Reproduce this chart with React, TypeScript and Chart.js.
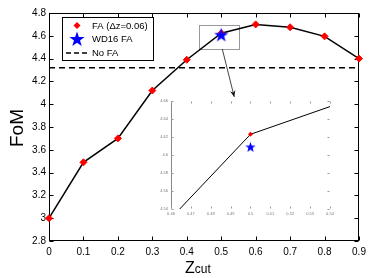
import React, { useEffect, useRef } from "react";
import { Chart, registerables } from "chart.js";

Chart.register(...registerables);

// ---- data ----
const zcut = [0, 0.1, 0.2, 0.3, 0.4, 0.5, 0.6, 0.7, 0.8, 0.9];
const fomFA = [3.0, 3.49, 3.7, 4.12, 4.39, 4.623, 4.7, 4.675, 4.595, 4.4];
const wd16X = [0.5];
const wd16Y = [4.609];
const noFAValue = 4.32;
const legendLabels = ["FA (\u0394z=0.06)", "WD16 FA", "No FA"];
const xTicksMain = [0, 0.1, 0.2, 0.3, 0.4, 0.5, 0.6, 0.7, 0.8, 0.9];
const yTicksMain = [2.8, 3.0, 3.2, 3.4, 3.6, 3.8, 4.0, 4.2, 4.4, 4.6, 4.8];
const xTicksInset = [0.46, 0.47, 0.48, 0.49, 0.5, 0.51, 0.52, 0.53, 0.54];
const yTicksInset = [4.54, 4.56, 4.58, 4.6, 4.62, 4.64, 4.66];
const zoomBoxX = [0.436, 0.552];
const zoomBoxY = [4.485, 4.695];

const FONT = "'Liberation Sans', Arial, Helvetica, sans-serif";

function fmt(v: number) {
  return String(Number(Number(v).toFixed(2)));
}

function makeStar(size: number, color: string) {
  const c = document.createElement("canvas");
  c.width = size;
  c.height = size;
  const g = c.getContext("2d")!;
  const cx = size / 2;
  const cy = size / 2 + size * 0.04;
  const R = size / 2;
  const r = R * 0.4;
  g.beginPath();
  for (let i = 0; i < 10; i++) {
    const ang = -Math.PI / 2 + (i * Math.PI) / 5;
    const rad = i % 2 === 0 ? R : r;
    g.lineTo(cx + rad * Math.cos(ang), cy + rad * Math.sin(ang));
  }
  g.closePath();
  g.fillStyle = color;
  g.fill();
  return c;
}

function drawStarPath(ctx: CanvasRenderingContext2D, cx: number, cy: number, R: number) {
  const r = R * 0.4;
  ctx.beginPath();
  for (let i = 0; i < 10; i++) {
    const ang = -Math.PI / 2 + (i * Math.PI) / 5;
    const rad = i % 2 === 0 ? R : r;
    ctx.lineTo(cx + rad * Math.cos(ang), cy + rad * Math.sin(ang));
  }
  ctx.closePath();
}

const mainDecor = {
  id: "mainDecor",
  beforeDatasetsDraw(chart: any) {
    const { ctx, chartArea: a, scales } = chart;
    const x = scales.x;
    const y = scales.y;
    ctx.save();
    ctx.strokeStyle = "#000";
    ctx.lineWidth = 1;
    const L = Math.round(a.left) + 0.5;
    const R = Math.round(a.right) - 0.5;
    const T = Math.round(a.top) + 0.5;
    const B = Math.round(a.bottom) - 0.5;
    ctx.strokeRect(L, T, R - L, B - T);
    const tl = 4;
    ctx.beginPath();
    xTicksMain.forEach((v) => {
      const px = Math.round(x.getPixelForValue(v)) + 0.5;
      ctx.moveTo(px, B);
      ctx.lineTo(px, B - tl);
      ctx.moveTo(px, T);
      ctx.lineTo(px, T + tl);
    });
    yTicksMain.forEach((v) => {
      const py = Math.round(y.getPixelForValue(v)) + 0.5;
      ctx.moveTo(L, py);
      ctx.lineTo(L + tl, py);
      ctx.moveTo(R, py);
      ctx.lineTo(R - tl, py);
    });
    ctx.stroke();

    // zoom box
    ctx.strokeStyle = "#999";
    ctx.lineWidth = 1;
    const bx0 = Math.round(x.getPixelForValue(zoomBoxX[0])) + 0.5;
    const bx1 = Math.round(x.getPixelForValue(zoomBoxX[1])) + 0.5;
    const by0 = Math.round(y.getPixelForValue(zoomBoxY[1])) + 0.5;
    const by1 = Math.round(y.getPixelForValue(zoomBoxY[0])) + 0.5;
    ctx.strokeRect(bx0, by0, bx1 - bx0, by1 - by0);
    ctx.restore();
  },
  afterDraw(chart: any) {
    const { ctx, chartArea: a, scales } = chart;
    const x = scales.x;
    const y = scales.y;
    ctx.save();

    // arrow from zoom box to inset
    const ax0 = x.getPixelForValue(0.503);
    const ay0 = y.getPixelForValue(zoomBoxY[0]);
    const ax1 = ax0 + 12;
    const ay1 = ay0 + 48;
    ctx.strokeStyle = "#444";
    ctx.lineWidth = 1;
    ctx.beginPath();
    ctx.moveTo(ax0, ay0);
    ctx.lineTo(ax1, ay1);
    ctx.stroke();
    const ang = Math.atan2(ay1 - ay0, ax1 - ax0);
    const hl = 7;
    ctx.fillStyle = "#111";
    ctx.beginPath();
    ctx.moveTo(ax1, ay1);
    ctx.lineTo(ax1 - hl * Math.cos(ang - 0.4), ay1 - hl * Math.sin(ang - 0.4));
    ctx.lineTo(ax1 - hl * 0.6 * Math.cos(ang), ay1 - hl * 0.6 * Math.sin(ang));
    ctx.lineTo(ax1 - hl * Math.cos(ang + 0.4), ay1 - hl * Math.sin(ang + 0.4));
    ctx.closePath();
    ctx.fill();

    // legend
    const lx = a.left + 13;
    const ly = a.top + 4;
    const lw = 91;
    const lh = 43;
    ctx.fillStyle = "#fff";
    ctx.fillRect(lx, ly, lw, lh);
    ctx.strokeStyle = "#000";
    ctx.lineWidth = 1;
    ctx.strokeRect(Math.round(lx) + 0.5, Math.round(ly) + 0.5, lw, lh);
    const rows = [ly + 8.5, ly + 22, ly + 36];
    const mx = lx + 15;
    const tx = lx + 30;
    // FA marker
    ctx.fillStyle = "#ff0000";
    ctx.beginPath();
    ctx.moveTo(mx, rows[0] - 3.5);
    ctx.lineTo(mx + 3.5, rows[0]);
    ctx.lineTo(mx, rows[0] + 3.5);
    ctx.lineTo(mx - 3.5, rows[0]);
    ctx.closePath();
    ctx.fill();
    // star
    ctx.fillStyle = "#0000ff";
    drawStarPath(ctx, mx, rows[1] + 0.5, 8);
    ctx.fill();
    // dashed
    ctx.strokeStyle = "#000";
    ctx.lineWidth = 1.5;
    ctx.setLineDash([5, 3]);
    ctx.beginPath();
    ctx.moveTo(lx + 4, rows[2]);
    ctx.lineTo(lx + 28, rows[2]);
    ctx.stroke();
    ctx.setLineDash([]);
    ctx.fillStyle = "#000";
    ctx.font = `9.5px ${FONT}`;
    ctx.textBaseline = "middle";
    ctx.textAlign = "left";
    legendLabels.forEach((t, i) => ctx.fillText(t, tx, rows[i] + 0.5));

    // y title
    ctx.save();
    ctx.translate(18, (a.top + a.bottom) / 2 + 1);
    ctx.rotate(-Math.PI / 2);
    ctx.font = `19px ${FONT}`;
    ctx.textAlign = "center";
    ctx.textBaseline = "middle";
    ctx.fillText("FoM", 0, 0);
    ctx.restore();

    // x title Z_cut
    const cx = (a.left + a.right) / 2 - 19;
    ctx.textAlign = "left";
    ctx.textBaseline = "alphabetic";
    ctx.font = `16px ${FONT}`;
    ctx.fillText("Z", cx, 273);
    const zw = ctx.measureText("Z").width;
    ctx.font = `12px ${FONT}`;
    ctx.fillText("cut", cx + zw, 273);
    ctx.restore();
  },
};

const insetDecor = {
  id: "insetDecor",
  beforeDatasetsDraw(chart: any) {
    const { ctx, chartArea: a, scales } = chart;
    const x = scales.x;
    const y = scales.y;
    ctx.save();
    const L = Math.round(a.left) + 0.5;
    const R = Math.round(a.right) - 0.5;
    const T = Math.round(a.top) + 0.5;
    const B = Math.round(a.bottom) - 0.5;
    ctx.strokeStyle = "#888";
    ctx.lineWidth = 1;
    ctx.beginPath();
    ctx.moveTo(L, T);
    ctx.lineTo(L, B);
    ctx.stroke();
    ctx.strokeStyle = "#999";
    const tl = 2;
    ctx.beginPath();
    xTicksInset.forEach((v) => {
      const px = Math.round(x.getPixelForValue(v)) + 0.5;
      ctx.moveTo(px, B);
      ctx.lineTo(px, B - tl);
      ctx.moveTo(px, T);
      ctx.lineTo(px, T + tl);
    });
    yTicksInset.forEach((v) => {
      const py = Math.round(y.getPixelForValue(v)) + 0.5;
      ctx.moveTo(L, py);
      ctx.lineTo(L + tl, py);
      ctx.moveTo(R, py);
      ctx.lineTo(R - tl, py);
    });
    ctx.stroke();
    ctx.restore();
  },
};

export default function App() {
  const mainRef = useRef<HTMLCanvasElement | null>(null);
  const insetRef = useRef<HTMLCanvasElement | null>(null);

  useEffect(() => {
    const faData = zcut.map((v, i) => ({ x: v, y: fomFA[i] }));
    const wdData = wd16X.map((v, i) => ({ x: v, y: wd16Y[i] }));
    const noFAData = [
      { x: zcut[0], y: noFAValue },
      { x: zcut[zcut.length - 1], y: noFAValue },
    ];
    const tickFont = { family: FONT, size: 10 };

    const main = new Chart(mainRef.current!, {
      type: "line",
      data: {
        datasets: [
          {
            label: legendLabels[0],
            data: faData,
            borderColor: "#000",
            borderWidth: 1.5,
            pointStyle: "rectRot",
            pointRadius: 3.5,
            pointBackgroundColor: "#ff0000",
            pointBorderColor: "#ff0000",
            pointBorderWidth: 1,
            tension: 0,
            clip: false,
            order: 1,
          } as any,
          {
            label: legendLabels[1],
            data: wdData,
            showLine: false,
            pointStyle: makeStar(15, "#0000ff"),
            pointRadius: 7,
            clip: false,
            order: -1,
          } as any,
          {
            label: legendLabels[2],
            data: noFAData,
            borderColor: "#000",
            borderWidth: 1.5,
            borderDash: [6, 4],
            pointRadius: 0,
            order: 2,
          } as any,
        ],
      },
      options: {
        responsive: false,
        animation: false,
        events: [],
        layout: { padding: { left: 0, top: 13, right: 13, bottom: 0 } },
        plugins: { legend: { display: false }, tooltip: { enabled: false } },
        scales: {
          x: {
            type: "linear",
            min: 0,
            max: 0.9,
            afterBuildTicks: (s: any) => {
              s.ticks = xTicksMain.map((v) => ({ value: v }));
            },
            ticks: {
              font: tickFont,
              color: "#000",
              padding: 5,
              autoSkip: false,
              maxRotation: 0,
              callback: (v: any) => fmt(v),
            },
            grid: { display: false, drawTicks: false },
            border: { display: false },
            afterFit: (s: any) => {
              s.height = 37;
            },
          },
          y: {
            type: "linear",
            min: 2.8,
            max: 4.8,
            afterBuildTicks: (s: any) => {
              s.ticks = yTicksMain.map((v) => ({ value: v }));
            },
            ticks: {
              font: tickFont,
              color: "#000",
              padding: 3,
              autoSkip: false,
              callback: (v: any) => fmt(v),
            },
            grid: { display: false, drawTicks: false },
            border: { display: false },
            afterFit: (s: any) => {
              s.width = 49;
            },
          },
        },
      } as any,
      plugins: [mainDecor],
    });

    const insetFont = { family: FONT, size: 4 };
    const inset = new Chart(insetRef.current!, {
      type: "line",
      data: {
        datasets: [
          {
            data: faData,
            borderColor: "#000",
            borderWidth: 1,
            pointStyle: "rectRot",
            pointRadius: 2.5,
            pointBackgroundColor: "#ff0000",
            pointBorderColor: "#ff0000",
            pointBorderWidth: 0,
            tension: 0,
            order: 1,
          } as any,
          {
            data: wdData,
            showLine: false,
            pointStyle: makeStar(11, "#0000ff"),
            pointRadius: 5,
            order: -1,
          } as any,
        ],
      },
      options: {
        responsive: false,
        animation: false,
        events: [],
        layout: { padding: { left: 0, top: 9, right: 15, bottom: 0 } },
        plugins: { legend: { display: false }, tooltip: { enabled: false } },
        scales: {
          x: {
            type: "linear",
            min: 0.46,
            max: 0.54,
            afterBuildTicks: (s: any) => {
              s.ticks = xTicksInset.map((v) => ({ value: v }));
            },
            ticks: {
              font: insetFont,
              color: "#777",
              padding: 2,
              autoSkip: false,
              maxRotation: 0,
              callback: (v: any) => fmt(v),
            },
            grid: { display: false, drawTicks: false },
            border: { display: false },
            afterFit: (s: any) => {
              s.height = 8;
            },
          },
          y: {
            type: "linear",
            min: 4.54,
            max: 4.66,
            afterBuildTicks: (s: any) => {
              s.ticks = yTicksInset.map((v) => ({ value: v }));
            },
            ticks: {
              font: insetFont,
              color: "#777",
              padding: 3,
              autoSkip: false,
              callback: (v: any) => fmt(v),
            },
            grid: { display: false, drawTicks: false },
            border: { display: false },
            afterFit: (s: any) => {
              s.width = 21;
            },
          },
        },
      } as any,
      plugins: [insetDecor],
    });

    return () => {
      main.destroy();
      inset.destroy();
    };
  }, []);

  return (
    <div
      style={{
        position: "fixed",
        left: 0,
        top: 0,
        width: 372,
        height: 278,
        background: "#fff",
        overflow: "hidden",
      }}
    >
      <canvas
        ref={mainRef}
        width={372}
        height={278}
        style={{ position: "absolute", left: 0, top: 0, width: 372, height: 278 }}
      />
      <canvas
        ref={insetRef}
        width={195}
        height={125}
        style={{ position: "absolute", left: 150, top: 92, width: 195, height: 125 }}
      />
    </div>
  );
}
